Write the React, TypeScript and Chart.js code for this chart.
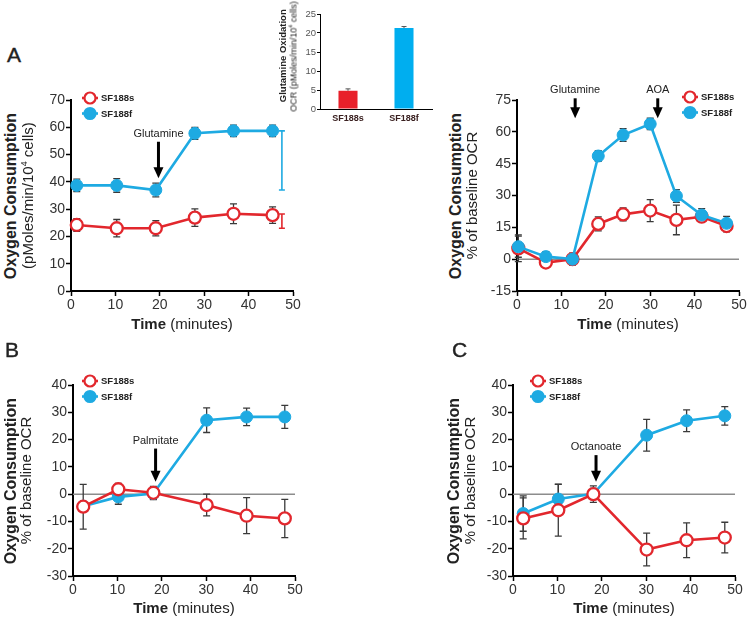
import React, { useEffect, useRef } from 'react';
import { Chart, registerables } from 'chart.js';
Chart.register(...registerables);

const RED = '#e2272d';
const BLUE = '#1eaae2';
const BAR_RED = '#e8202a';
const BAR_BLUE = '#00aeef';
const INK = '#222222';
const FONT = '"Liberation Sans", Arial, Helvetica, sans-serif';

// ---------- Panel A (left): absolute OCR ----------
const aTime = [1.3, 10.3, 19.1, 27.9, 36.6, 45.4];
const aS188s = [24.2, 23.0, 23.0, 26.9, 28.3, 27.8];
const aS188sErr = [2.3, 3.2, 2.8, 3.2, 3.6, 3.0];
const aS188f = [38.7, 38.7, 37.0, 57.8, 58.7, 58.7];
const aS188fErr = [2.3, 2.5, 2.5, 2.2, 2.1, 2.1];
const aDeltaTime = 47.5;
const aDeltaS = [23.0, 28.2];
const aDeltaF = [37.0, 58.7];

// ---------- Inset: glutamine oxidation ----------
const insetLabels = ['SF188s', 'SF188f'];
const insetValues = [4.8, 21.3];
const insetErr = [0.5, 0.4];

// ---------- Panel A (right): % of baseline, glutamine then AOA ----------
const a2Time = [0.3, 6.5, 12.5, 18.3, 23.9, 30.0, 35.9, 41.6, 47.2];
const a2S188s = [5.1, -1.6, 0, 16.6, 21.1, 22.9, 18.5, 20.0, 15.6];
const a2S188sErr = [6.3, 2.0, 2.0, 3.3, 3.0, 5.2, 7.0, 2.0, 2.7];
const a2S188f = [5.9, 1.2, 0, 48.6, 58.5, 63.7, 29.8, 20.8, 16.9];
const a2S188fErr = [5.0, 2.3, 2.8, 2.5, 3.0, 2.7, 3.0, 3.0, 3.3];

// ---------- Panel B: palmitate ----------
const bTime = [2.3, 10.2, 18.1, 30.1, 39.1, 47.7];
const bS188s = [-4.6, 1.8, 0.5, -4.0, -7.9, -8.9];
const bS188sErr = [8.2, 2.1, 2.3, 4.0, 6.6, 7.0];
const bS188f = [-4.4, -1.0, 0.2, 27.1, 28.3, 28.3];
const bS188fErr = [1.5, 2.7, 2.2, 4.5, 3.2, 4.2];

// ---------- Panel C: octanoate ----------
const cTime = [2.3, 10.2, 18.1, 30.1, 39.1, 47.7];
const cS188s = [-8.9, -5.9, 0, -20.3, -16.9, -15.9];
const cS188sErr = [7.5, 9.5, 3.0, 6.0, 6.4, 5.6];
const cS188f = [-7.1, -1.8, 0.1, 21.6, 26.9, 28.7];
const cS188fErr = [6.5, 5.5, 2.0, 5.8, 4.0, 3.4];

type Box = { left: number; top: number; width: number; height: number };
type Area = { left: number; right: number; top: number; bottom: number };
type Series = { name: string; time: number[]; vals: number[]; errs: number[]; color: string; hollow: boolean };
type Arrow = { x: number; yTop: number; yTip: number; label: string };
type Delta = { x: number; lo: number; hi: number; color: string };

type PanelProps = {
  box: Box;
  area: Area;
  yMin: number;
  yMax: number;
  yStep: number;
  series: Series[];
  topIndex: number;
  zeroLine: boolean;
  arrows: Arrow[];
  legendAt: { x: number; y: number };
  deltas?: Delta[];
};

function LinePanel(props: PanelProps) {
  const ref = useRef<HTMLCanvasElement | null>(null);
  useEffect(() => {
    const { box, area, series, topIndex, zeroLine, arrows, legendAt, deltas } = props;
    const decor = {
      id: 'decor',
      beforeDatasetsDraw(chart: any) {
        const { ctx, chartArea } = chart;
        const xs = chart.scales.x;
        const ys = chart.scales.y;
        ctx.save();
        if (zeroLine) {
          const y0 = ys.getPixelForValue(0);
          ctx.strokeStyle = '#8c8c8c';
          ctx.lineWidth = 1.5;
          ctx.beginPath();
          ctx.moveTo(chartArea.left, y0);
          ctx.lineTo(chartArea.right, y0);
          ctx.stroke();
        }
        ctx.strokeStyle = '#3a3a3a';
        ctx.lineWidth = 1.3;
        series.forEach((s) => {
          s.time.forEach((t, i) => {
            const px = xs.getPixelForValue(t);
            const yt = ys.getPixelForValue(s.vals[i] + s.errs[i]);
            const yb = ys.getPixelForValue(s.vals[i] - s.errs[i]);
            ctx.beginPath();
            ctx.moveTo(px, yt);
            ctx.lineTo(px, yb);
            ctx.moveTo(px - 3.5, yt);
            ctx.lineTo(px + 3.5, yt);
            ctx.moveTo(px - 3.5, yb);
            ctx.lineTo(px + 3.5, yb);
            ctx.stroke();
          });
        });
        ctx.restore();
      },
      afterDatasetsDraw(chart: any) {
        const { ctx } = chart;
        const xs = chart.scales.x;
        const ys = chart.scales.y;
        ctx.save();
        (deltas || []).forEach((d) => {
          const px = xs.getPixelForValue(d.x);
          const y1 = ys.getPixelForValue(d.hi);
          const y2 = ys.getPixelForValue(d.lo);
          ctx.strokeStyle = d.color;
          ctx.lineWidth = 1.6;
          ctx.beginPath();
          ctx.moveTo(px, y1);
          ctx.lineTo(px, y2);
          ctx.moveTo(px - 3, y1);
          ctx.lineTo(px + 3, y1);
          ctx.moveTo(px - 3, y2);
          ctx.lineTo(px + 3, y2);
          ctx.stroke();
        });
        arrows.forEach((a) => {
          const px = xs.getPixelForValue(a.x);
          const yTop = ys.getPixelForValue(a.yTop);
          const yTip = ys.getPixelForValue(a.yTip);
          const headH = 11;
          ctx.strokeStyle = '#000';
          ctx.fillStyle = '#000';
          ctx.lineWidth = 3;
          ctx.beginPath();
          ctx.moveTo(px, yTop);
          ctx.lineTo(px, yTip - headH + 1);
          ctx.stroke();
          ctx.beginPath();
          ctx.moveTo(px - 5, yTip - headH);
          ctx.lineTo(px + 5, yTip - headH);
          ctx.lineTo(px, yTip);
          ctx.closePath();
          ctx.fill();
          ctx.fillStyle = INK;
          ctx.font = `11px ${FONT}`;
          ctx.textAlign = 'center';
          ctx.textBaseline = 'alphabetic';
          ctx.fillText(a.label, px, yTop - 5);
        });
        // legend
        const lx = legendAt.x - box.left;
        const ly = legendAt.y - box.top;
        series.forEach((s, i) => {
          const cy = ly + i * 15.5;
          ctx.strokeStyle = s.color;
          ctx.lineWidth = 2.6;
          ctx.beginPath();
          ctx.moveTo(lx - 8, cy);
          ctx.lineTo(lx + 8, cy);
          ctx.stroke();
          ctx.beginPath();
          ctx.arc(lx, cy, 5.5, 0, Math.PI * 2);
          ctx.fillStyle = s.hollow ? '#ffffff' : s.color;
          ctx.fill();
          ctx.lineWidth = 2.2;
          ctx.stroke();
          ctx.fillStyle = INK;
          ctx.font = `bold 9.5px ${FONT}`;
          ctx.textAlign = 'left';
          ctx.textBaseline = 'middle';
          ctx.fillText(s.name, lx + 11, cy + 0.5);
        });
        ctx.restore();
      },
    };

    const tickFont = { family: FONT, size: 14 };
    const chart = new Chart(ref.current as HTMLCanvasElement, {
      type: 'line',
      data: {
        datasets: series.map((s, i) => ({
          label: s.name,
          data: s.time.map((t, k) => ({ x: t, y: s.vals[k] })),
          borderColor: s.color,
          backgroundColor: s.color,
          borderWidth: 2.6,
          pointRadius: 6,
          pointHoverRadius: 6,
          pointBorderWidth: s.hollow ? 2.3 : 1,
          pointBorderColor: s.color,
          pointBackgroundColor: s.hollow ? '#ffffff' : s.color,
          tension: 0,
          clip: false,
          order: i === topIndex ? 0 : 1,
        })) as any,
      },
      options: {
        animation: false,
        responsive: false,
        maintainAspectRatio: false,
        devicePixelRatio: 1,
        events: [],
        layout: {
          padding: {
            top: area.top - box.top,
            right: box.left + box.width - area.right,
            left: 0,
            bottom: 0,
          },
        },
        plugins: { legend: { display: false }, tooltip: { enabled: false } },
        scales: {
          x: {
            type: 'linear',
            min: 0,
            max: 50,
            ticks: { stepSize: 10, font: tickFont, color: '#333', padding: 1, maxRotation: 0 },
            grid: { drawOnChartArea: false, drawTicks: true, tickLength: 5, tickColor: '#000', tickWidth: 1.5 },
            border: { color: '#000', width: 2 },
            afterFit: (sc: any) => {
              sc.height = box.top + box.height - area.bottom;
            },
          },
          y: {
            type: 'linear',
            min: props.yMin,
            max: props.yMax,
            ticks: { stepSize: props.yStep, font: tickFont, color: '#333', padding: 1 },
            grid: { drawOnChartArea: false, drawTicks: true, tickLength: 5, tickColor: '#000', tickWidth: 1.5 },
            border: { color: '#000', width: 2 },
            afterFit: (sc: any) => {
              sc.width = area.left - box.left;
            },
          },
        },
      } as any,
      plugins: [decor],
    });
    return () => chart.destroy();
  }, []);
  const { box } = props;
  return (
    <canvas
      ref={ref}
      width={box.width}
      height={box.height}
      style={{ position: 'absolute', left: box.left, top: box.top, width: box.width, height: box.height }}
    />
  );
}

function InsetBars() {
  const ref = useRef<HTMLCanvasElement | null>(null);
  const box = { left: 298, top: 2, width: 140, height: 125 };
  const area = { left: 320, right: 432, top: 14, bottom: 109 };
  useEffect(() => {
    const errPlugin = {
      id: 'insetErr',
      afterDatasetsDraw(chart: any) {
        const { ctx } = chart;
        const meta = chart.getDatasetMeta(0);
        const ys = chart.scales.y;
        ctx.save();
        ctx.strokeStyle = '#555';
        ctx.lineWidth = 1;
        meta.data.forEach((el: any, i: number) => {
          const yv = ys.getPixelForValue(insetValues[i]);
          const ye = ys.getPixelForValue(insetValues[i] + insetErr[i]);
          ctx.beginPath();
          ctx.moveTo(el.x, yv);
          ctx.lineTo(el.x, ye);
          ctx.moveTo(el.x - 2.5, ye);
          ctx.lineTo(el.x + 2.5, ye);
          ctx.stroke();
        });
        ctx.restore();
      },
    };
    const chart = new Chart(ref.current as HTMLCanvasElement, {
      type: 'bar',
      data: {
        labels: insetLabels,
        datasets: [
          {
            data: insetValues,
            backgroundColor: [BAR_RED, BAR_BLUE],
            barPercentage: 0.34,
            categoryPercentage: 1,
            borderWidth: 0,
          },
        ],
      },
      options: {
        animation: false,
        responsive: false,
        maintainAspectRatio: false,
        devicePixelRatio: 1,
        events: [],
        layout: { padding: { top: area.top - box.top, right: box.left + box.width - area.right, left: 0, bottom: 0 } },
        plugins: { legend: { display: false }, tooltip: { enabled: false } },
        scales: {
          x: {
            ticks: { font: { family: FONT, size: 9, weight: 'bold' }, color: '#3a2020', padding: 4 },
            grid: { drawOnChartArea: false, drawTicks: false },
            border: { color: '#000', width: 1 },
            afterFit: (sc: any) => {
              sc.height = box.top + box.height - area.bottom;
            },
          },
          y: {
            min: 0,
            max: 25,
            ticks: { stepSize: 5, font: { family: FONT, size: 9.5 }, color: '#555', padding: 1 },
            grid: { drawOnChartArea: false, drawTicks: true, tickLength: 3, tickColor: '#000', tickWidth: 1 },
            border: { color: '#000', width: 1 },
            afterFit: (sc: any) => {
              sc.width = area.left - box.left;
            },
          },
        },
      } as any,
      plugins: [errPlugin],
    });
    return () => chart.destroy();
  }, []);
  return (
    <canvas
      ref={ref}
      width={box.width}
      height={box.height}
      style={{ position: 'absolute', left: box.left, top: box.top, width: box.width, height: box.height }}
    />
  );
}

function Rot(props: { cx: number; cy: number; len: number; size: number; bold?: boolean; children: any }) {
  const lh = props.size + 2;
  return (
    <div
      style={{
        position: 'absolute',
        left: props.cx - props.len / 2,
        top: props.cy - lh / 2,
        width: props.len,
        height: lh,
        lineHeight: lh + 'px',
        fontSize: props.size,
        fontWeight: props.bold ? 'bold' : 'normal',
        textAlign: 'center',
        whiteSpace: 'nowrap',
        transform: 'rotate(-90deg)',
      }}
    >
      {props.children}
    </div>
  );
}

function TimeTitle(props: { cx: number; cy: number }) {
  return (
    <div
      style={{
        position: 'absolute',
        left: props.cx - 100,
        top: props.cy - 10,
        width: 200,
        height: 20,
        lineHeight: '20px',
        textAlign: 'center',
        fontSize: 15,
        whiteSpace: 'nowrap',
      }}
    >
      <b>Time</b> (minutes)
    </div>
  );
}

function Letter(props: { x: number; y: number; t: string }) {
  return (
    <div style={{ position: 'absolute', left: props.x, top: props.y, fontSize: 21, lineHeight: '20px', WebkitTextStroke: '0.4px #222' }}>{props.t}</div>
  );
}

export default function App() {
  const sSeries = (time: number[], vals: number[], errs: number[]): Series => ({
    name: 'SF188s', time, vals, errs, color: RED, hollow: true,
  });
  const fSeries = (time: number[], vals: number[], errs: number[]): Series => ({
    name: 'SF188f', time, vals, errs, color: BLUE, hollow: false,
  });
  const sup4 = <sup style={{ fontSize: '0.6em', lineHeight: 0 }}>4</sup>;
  return (
    <div
      style={{
        position: 'absolute',
        left: 0,
        top: 0,
        width: 750,
        height: 620,
        background: '#fff',
        fontFamily: FONT,
        color: INK,
        overflow: 'hidden',
      }}
    >
      <LinePanel
        box={{ left: 20, top: 80, width: 290, height: 240 }}
        area={{ left: 71, right: 293, top: 100, bottom: 291 }}
        yMin={0}
        yMax={70}
        yStep={10}
        series={[sSeries(aTime, aS188s, aS188sErr), fSeries(aTime, aS188f, aS188fErr)]}
        topIndex={1}
        zeroLine={false}
        arrows={[{ x: 19.7, yTop: 54.7, yTip: 41.3, label: 'Glutamine' }]}
        legendAt={{ x: 90, y: 98 }}
        deltas={[
          { x: aDeltaTime, lo: aDeltaF[0], hi: aDeltaF[1], color: BLUE },
          { x: aDeltaTime, lo: aDeltaS[0], hi: aDeltaS[1], color: RED },
        ]}
      />
      <InsetBars />
      <LinePanel
        box={{ left: 470, top: 70, width: 280, height: 250 }}
        area={{ left: 517, right: 739, top: 100, bottom: 291 }}
        yMin={-15}
        yMax={75}
        yStep={15}
        series={[sSeries(a2Time, a2S188s, a2S188sErr), fSeries(a2Time, a2S188f, a2S188fErr)]}
        topIndex={1}
        zeroLine={true}
        arrows={[
          { x: 13.1, yTop: 75.8, yTip: 66.4, label: 'Glutamine' },
          { x: 31.7, yTop: 75.8, yTip: 66.4, label: 'AOA' },
        ]}
        legendAt={{ x: 690, y: 97 }}
      />
      <LinePanel
        box={{ left: 20, top: 360, width: 290, height: 260 }}
        area={{ left: 73, right: 295, top: 385, bottom: 576 }}
        yMin={-30}
        yMax={40}
        yStep={10}
        series={[sSeries(bTime, bS188s, bS188sErr), fSeries(bTime, bS188f, bS188fErr)]}
        topIndex={0}
        zeroLine={true}
        arrows={[{ x: 18.6, yTop: 16.7, yTip: 4.5, label: 'Palmitate' }]}
        legendAt={{ x: 90, y: 381 }}
      />
      <LinePanel
        box={{ left: 465, top: 360, width: 285, height: 260 }}
        area={{ left: 513, right: 735, top: 385, bottom: 576 }}
        yMin={-30}
        yMax={40}
        yStep={10}
        series={[sSeries(cTime, cS188s, cS188sErr), fSeries(cTime, cS188f, cS188fErr)]}
        topIndex={0}
        zeroLine={true}
        arrows={[{ x: 18.7, yTop: 14.3, yTip: 4.5, label: 'Octanoate' }]}
        legendAt={{ x: 538, y: 381 }}
      />

      <Letter x={7} y={45} t="A" />
      <Letter x={5} y={340} t="B" />
      <Letter x={452} y={340} t="C" />

      <Rot cx={11} cy={195.5} len={200} size={16} bold>Oxygen Consumption</Rot>
      <Rot cx={26.5} cy={195.5} len={200} size={15}>(pMoles/min/10{sup4} cells)</Rot>
      <Rot cx={456} cy={195.5} len={200} size={16} bold>Oxygen Consumption</Rot>
      <Rot cx={471} cy={195.5} len={200} size={15}>% of baseline OCR</Rot>
      <Rot cx={11} cy={480.5} len={200} size={16} bold>Oxygen Consumption</Rot>
      <Rot cx={24.5} cy={480.5} len={200} size={15}>% of baseline OCR</Rot>
      <Rot cx={453.5} cy={480.5} len={200} size={16} bold>Oxygen Consumption</Rot>
      <Rot cx={468.5} cy={480.5} len={200} size={15}>% of baseline OCR</Rot>

      <Rot cx={283} cy={56} len={130} size={9.5} bold>Glutamine Oxidation</Rot>
      <Rot cx={294} cy={56} len={130} size={9}>OCR (pMoles/min/10{sup4} cells)</Rot>

      <TimeTitle cx={182} cy={324} />
      <TimeTitle cx={628} cy={324} />
      <TimeTitle cx={184} cy={608} />
      <TimeTitle cx={624} cy={608} />
    </div>
  );
}
